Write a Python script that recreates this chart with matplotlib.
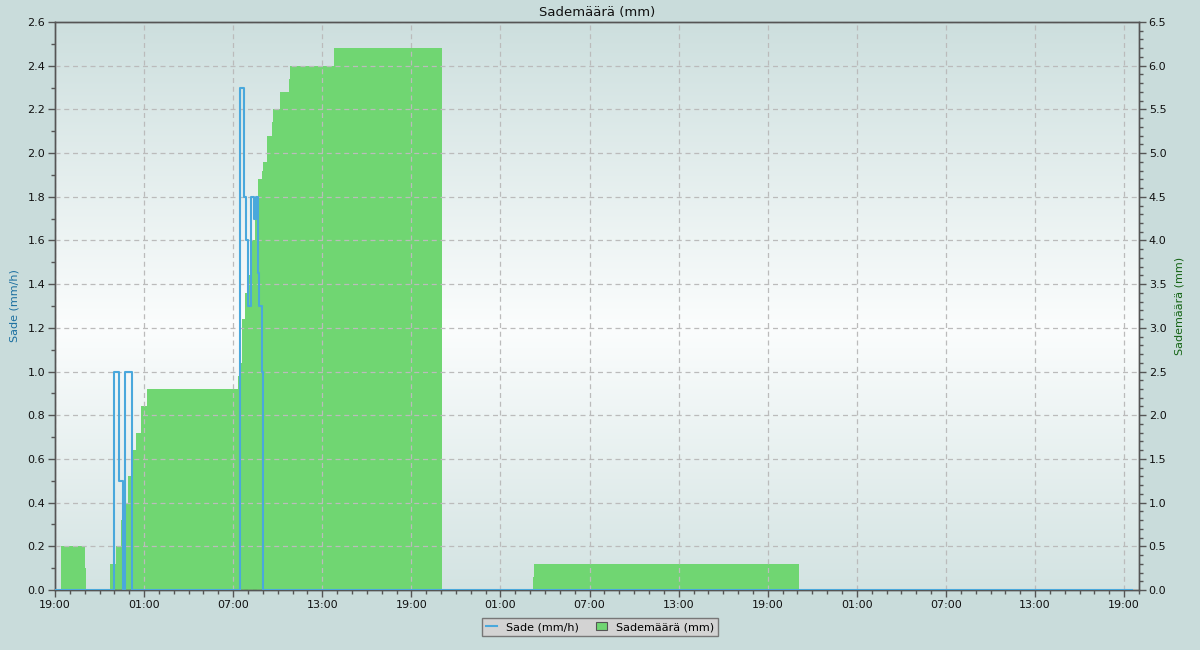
import numpy as np
import matplotlib
matplotlib.use("Agg")
import matplotlib.pyplot as plt
from matplotlib.colors import LinearSegmentedColormap
from matplotlib.ticker import MultipleLocator, FormatStrFormatter
from matplotlib.lines import Line2D
from matplotlib.patches import Patch

# ---- data (hours since 19:00 on day 1) ----
acc_times = [0.0, 0.40, 2.02, 2.09, 3.70, 4.09, 4.43, 4.69, 4.90, 5.23, 5.46, 5.79, 6.20,
             12.33, 12.39, 12.60, 12.80, 13.07, 13.27, 13.47, 13.67, 13.94, 14.01, 14.28,
             14.62, 14.68, 15.15, 15.76, 15.83, 18.79, 26.05, 32.20, 32.28, 50.11, 73.0]
acc_values = [0.0, 0.5, 0.25, 0.0, 0.3, 0.5, 0.8, 1.0, 1.3, 1.6, 1.8, 2.1, 2.3,
              2.45, 2.6, 3.1, 3.4, 3.6, 4.0, 4.3, 4.7, 4.8, 4.9, 5.2,
              5.35, 5.5, 5.7, 5.85, 6.0, 6.2, 0.0, 0.15, 0.3, 0.0, 0.0]

rate_times = [0.0, 3.99, 4.33, 4.60, 4.69, 5.17, 12.48, 12.71, 12.84, 13.00, 13.20,
              13.38, 13.52, 13.69, 13.76, 13.96, 14.03, 72.54]
rate_values = [0.0, 1.0, 0.5, 0.0, 1.0, 0.0, 2.3, 1.8, 1.6, 1.3, 1.8,
               1.7, 1.8, 1.45, 1.3, 1.0, 0.0, 0.0]

tick_hours = [0, 6, 12, 18, 24, 30, 36, 42, 48, 54, 60, 66, 72]
tick_labels = ["19:00", "01:00", "07:00", "13:00", "19:00", "01:00", "07:00",
               "13:00", "19:00", "01:00", "07:00", "13:00", "19:00"]

title = "Sademäärä (mm)"
left_label = "Sade (mm/h)"
right_label = "Sademäärä (mm)"

# ---- colours ----
fig_bg = "#c9dcdb"
green = "#70d672"
blue = "#4aa8dc"
spine_c = "#555555"

plt.rcParams['font.family'] = ['DejaVu Sans']
fig = plt.figure(figsize=(12, 6.5), dpi=100, facecolor=fig_bg)
ax2 = fig.add_axes([55/1200, 60/650, (1139-55)/1200, (590-22)/650])
ax1 = ax2.twinx()
ax1.yaxis.tick_left()
ax1.yaxis.set_label_position("left")
ax2.yaxis.tick_right()
ax2.yaxis.set_label_position("right")
ax1.set_zorder(ax2.get_zorder() + 1)
ax1.patch.set_visible(False)

# background gradient
cmap = LinearSegmentedColormap.from_list("bg", [(0.0, "#d3e3e2"), (0.46, "#fbfdfd"), (1.0, "#cddfde")])
grad = np.linspace(0, 1, 256).reshape(-1, 1)
ax2.imshow(grad, aspect="auto", cmap=cmap, origin="lower", extent=[0, 1, 0, 1],
           transform=ax2.transAxes, zorder=0)

# green accumulated
ax2.fill_between(acc_times, acc_values, step="post", color=green, linewidth=0, zorder=2)
ax2.set_xlim(0, 73)
ax2.set_ylim(0, 6.5)

# blue rate
ax1.step(rate_times, rate_values, where="post", color=blue, linewidth=1.5, zorder=3)
ax1.set_xlim(0, 73)
ax1.set_ylim(0, 2.6)

# grid
ax2.set_axisbelow(False)
ax2.grid(True, which="major", color="#bbbbbb", linestyle=(0, (4, 3)), linewidth=0.9, zorder=1)
for gl in ax2.get_xgridlines() + ax2.get_ygridlines():
    gl.set_zorder(1)

# ticks
ax2.set_xticks(tick_hours)
ax2.set_xticklabels(tick_labels)
ax2.xaxis.set_minor_locator(MultipleLocator(1))
ax1.yaxis.set_major_locator(MultipleLocator(0.2))
ax1.yaxis.set_minor_locator(MultipleLocator(0.1))
ax1.yaxis.set_major_formatter(FormatStrFormatter("%.1f"))
ax2.yaxis.set_major_locator(MultipleLocator(0.5))
ax2.yaxis.set_minor_locator(MultipleLocator(0.1))
ax2.yaxis.set_major_formatter(FormatStrFormatter("%.1f"))

for ax in (ax1, ax2):
    ax.tick_params(which="major", length=5, width=1, color=spine_c, labelsize=8, labelcolor="#111111", pad=2)
    ax.tick_params(which="minor", length=3, width=1, color=spine_c)
    for s in ax.spines.values():
        s.set_color(spine_c)
        s.set_linewidth(1)
ax1.tick_params(axis="x", which="both", bottom=False, labelbottom=False)

ax1.set_ylabel(left_label, color="#1b6fa0", fontsize=8, labelpad=6)
ax2.set_ylabel(right_label, color="#146414", fontsize=8, labelpad=6)
ax2.set_title(title, fontsize=9.5, pad=4, color="#111111")

# legend
handles = [Line2D([0], [0], color=blue, linewidth=1.5),
           Patch(facecolor=green, edgecolor="#555555", linewidth=0.8)]
leg = fig.legend(handles, [left_label, right_label], loc="center", bbox_to_anchor=(600/1200, 1 - 627/650),
                 ncol=2, fontsize=8, frameon=True, fancybox=False, facecolor="#d3d3d3",
                 edgecolor="#777777", handlelength=1.0, handleheight=0.7, columnspacing=1.5,
                 borderpad=0.4, handletextpad=0.8)
leg.get_frame().set_linewidth(1)
leg.get_frame().set_alpha(1)

fig.savefig("out.png", dpi=100, facecolor=fig_bg)
